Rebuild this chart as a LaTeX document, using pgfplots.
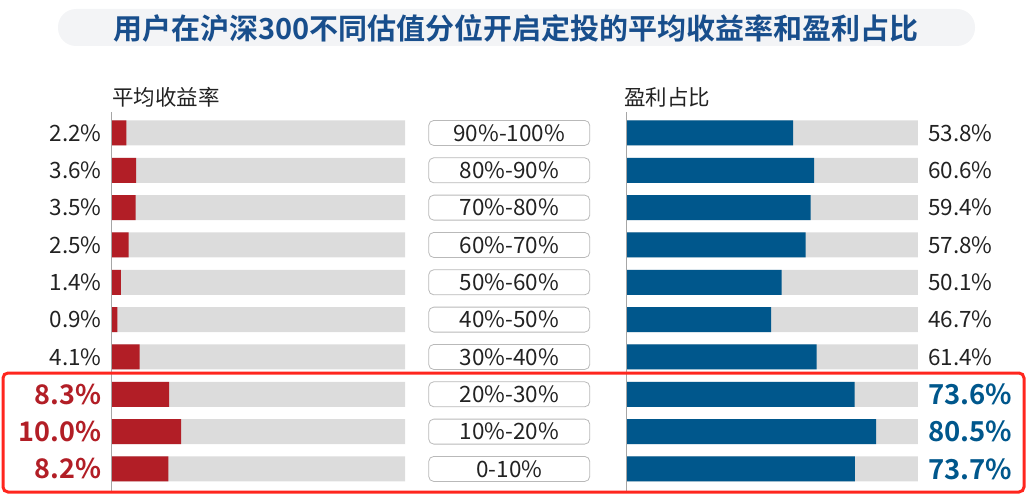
\documentclass[border=0pt]{standalone}
\usepackage{fontspec}
\setmainfont{Noto Sans CJK SC}[BoldFont={Noto Sans CJK SC Bold}]
\usepackage{pgfplots}
\pgfplotsset{compat=1.18}
\definecolor{cred}{RGB}{178,30,38}
\definecolor{cblue}{RGB}{0,87,140}
\definecolor{cgray}{RGB}{220,220,220}
\definecolor{ctitle}{RGB}{24,78,140}
\definecolor{tbg}{RGB}{243,244,246}
\definecolor{hred}{RGB}{255,38,30}
\definecolor{ctext}{RGB}{34,34,34}
\newcommand{\fs}[1]{\fontsize{#1}{#1}\selectfont}
\begin{document}
\begin{tikzpicture}
\path[use as bounding box] (0,0) rectangle (1028pt,-503pt);
% title
\node[fill=tbg, rounded corners=18pt, minimum width=917pt, minimum height=37pt, inner sep=0pt] at (516.5pt,-27.5pt) {};
\node[text=ctitle, inner sep=0pt] at (516pt,-28pt) {\fs{29}\bfseries 用户在沪深300不同估值分位开启定投的平均收益率和盈利占比};
% subtitles
\node[anchor=west, inner sep=0pt, text=ctext] at (112pt,-97pt) {\fs{21.5}平均收益率};
\node[anchor=west, inner sep=0pt, text=ctext] at (624pt,-97pt) {\fs{21.5}盈利占比};
% left axis
\begin{axis}[
  at={(111pt,-114.3pt)}, anchor=north west,
  scale only axis, width=294pt, height=373.3pt,
  xbar, bar width=25pt, bar shift=0pt,
  xmin=0, xmax=42, ymin=0.5, ymax=10.5, y dir=reverse,
  enlargelimits=false, clip=false,
  axis line style={draw=none}, tick style={draw=none},
  xtick=\empty, ytick={1,...,10},
  yticklabels={2.2\%,3.6\%,3.5\%,2.5\%,1.4\%,0.9\%,4.1\%,
    {\textcolor{cred}{\fs{27}\bfseries 8.3\%}},
    {\textcolor{cred}{\fs{27}\bfseries 10.0\%}},
    {\textcolor{cred}{\fs{27}\bfseries 8.2\%}}},
  yticklabel style={anchor=east, inner sep=0pt, xshift=-5pt, font=\fs{22.5}, text=ctext},
]
\addplot[fill=cgray, draw=none] coordinates {(42,1) (42,2) (42,3) (42,4) (42,5) (42,6) (42,7) (42,8) (42,9) (42,10)};
\addplot[fill=cred, draw=none] coordinates {(2.2,1) (3.6,2) (3.5,3) (2.5,4) (1.4,5) (0.9,6) (4.1,7) (8.3,8) (10.0,9) (8.2,10)};
\draw[gray!70, line width=0.8pt] (axis cs:0,0.45) -- (axis cs:0,10.6);
\end{axis}
% right axis
\begin{axis}[
  at={(626pt,-114.3pt)}, anchor=north west,
  scale only axis, width=292pt, height=373.3pt,
  xbar, bar width=25pt, bar shift=0pt,
  xmin=0, xmax=94, ymin=0.5, ymax=10.5, y dir=reverse,
  enlargelimits=false, clip=false,
  axis line style={draw=none}, tick style={draw=none},
  xtick=\empty, ytick={1,...,10},
  yticklabels={90\%-100\%,80\%-90\%,70\%-80\%,60\%-70\%,50\%-60\%,40\%-50\%,30\%-40\%,20\%-30\%,10\%-20\%,0-10\%},
  yticklabel style={anchor=center, xshift=-112.5pt, draw=gray!55, line width=0.8pt, rounded corners=5pt,
    minimum width=161pt, minimum height=25pt, inner sep=0pt, font=\fs{22.5}, text=ctext},
]
\addplot[fill=cgray, draw=none, nodes near coords={\pgfplotspointmeta}, point meta=explicit symbolic,
  nodes near coords style={anchor=west, inner sep=0pt, xshift=10pt, font=\fs{22.5}, text=ctext}]
  coordinates {(94,1)[53.8\%] (94,2)[60.6\%] (94,3)[59.4\%] (94,4)[57.8\%] (94,5)[50.1\%]
    (94,6)[46.7\%] (94,7)[61.4\%]
    (94,8)[{\textcolor{cblue}{\fs{27.5}\bfseries 73.6\%}}]
    (94,9)[{\textcolor{cblue}{\fs{27.5}\bfseries 80.5\%}}]
    (94,10)[{\textcolor{cblue}{\fs{27.5}\bfseries 73.7\%}}]};
\addplot[fill=cblue, draw=none] coordinates {(53.8,1) (60.6,2) (59.4,3) (57.8,4) (50.1,5) (46.7,6) (61.4,7) (73.6,8) (80.5,9) (73.7,10)};
\draw[gray!70, line width=0.8pt] (axis cs:0,0.45) -- (axis cs:0,10.6);
\end{axis}
% highlight
\draw[hred, line width=3pt, rounded corners=5pt] (3pt,-373pt) rectangle (1024pt,-492pt);
\end{tikzpicture}
\end{document}
